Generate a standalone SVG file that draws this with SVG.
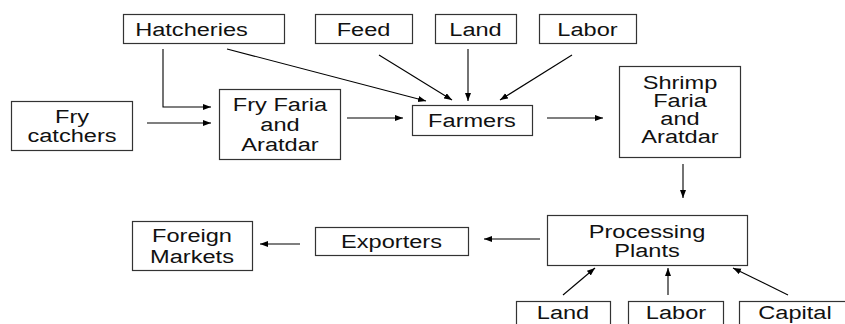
<svg xmlns="http://www.w3.org/2000/svg" width="845" height="324" viewBox="0 0 845 324">
<style>
.box{fill:#fff;stroke:#333;stroke-width:1.2}
.t{font-family:"Liberation Sans",Arial,sans-serif;font-size:18px;fill:#111;text-anchor:middle}
.c{fill:none;stroke:#000;stroke-width:1.1}
</style>
<defs>
<marker id="ah" markerUnits="userSpaceOnUse" markerWidth="9" markerHeight="7" refX="8" refY="3" orient="auto">
<path d="M0,0 L8,3 L0,6 z" fill="#000"/>
</marker>
</defs>
<rect width="845" height="324" fill="#fff"/>
<g id="connectors">
<polyline class="c" points="163,49 163,107 211,107" marker-end="url(#ah)"/>
<line class="c" x1="147" y1="123" x2="211" y2="123" marker-end="url(#ah)"/>
<line class="c" x1="227" y1="49" x2="426" y2="101" marker-end="url(#ah)"/>
<line class="c" x1="379" y1="55" x2="452" y2="100" marker-end="url(#ah)"/>
<line class="c" x1="468" y1="49" x2="468" y2="101" marker-end="url(#ah)"/>
<line class="c" x1="572" y1="55" x2="500" y2="100" marker-end="url(#ah)"/>
<line class="c" x1="347" y1="118" x2="403" y2="118" marker-end="url(#ah)"/>
<line class="c" x1="547" y1="118" x2="603" y2="118" marker-end="url(#ah)"/>
<line class="c" x1="683" y1="164" x2="683" y2="198" marker-end="url(#ah)"/>
<line class="c" x1="540" y1="239" x2="484" y2="239" marker-end="url(#ah)"/>
<line class="c" x1="300" y1="244" x2="260" y2="244" marker-end="url(#ah)"/>
<line class="c" x1="563" y1="295" x2="595" y2="268" marker-end="url(#ah)"/>
<line class="c" x1="668" y1="295" x2="668" y2="268" marker-end="url(#ah)"/>
<line class="c" x1="788" y1="295" x2="733" y2="268" marker-end="url(#ah)"/>
</g>
<g id="hatcheries"><rect class="box" x="123.5" y="14.5" width="161" height="29"/><text class="t" transform="translate(191.5,0) scale(1.31,1)" x="0" y="36">Hatcheries</text></g>
<g id="feed"><rect class="box" x="315.5" y="14.5" width="97" height="29"/><text class="t" transform="translate(363.5,0) scale(1.31,1)" x="0" y="36">Feed</text></g>
<g id="land-top"><rect class="box" x="435.5" y="14.5" width="81" height="29"/><text class="t" transform="translate(475.5,0) scale(1.31,1)" x="0" y="36">Land</text></g>
<g id="labor-top"><rect class="box" x="539.5" y="14.5" width="97" height="29"/><text class="t" transform="translate(587.5,0) scale(1.31,1)" x="0" y="36">Labor</text></g>
<g id="fry-catchers"><rect class="box" x="11.5" y="101.5" width="121" height="49"/><text class="t" transform="translate(72,0) scale(1.31,1)" x="0" y="123">Fry</text><text class="t" transform="translate(72,0) scale(1.31,1)" x="0" y="142">catchers</text></g>
<g id="fry-faria"><rect class="box" x="219.5" y="89.5" width="121" height="70"/><text class="t" transform="translate(280,0) scale(1.31,1)" x="0" y="111">Fry Faria</text><text class="t" transform="translate(280,0) scale(1.31,1)" x="0" y="131">and</text><text class="t" transform="translate(280,0) scale(1.31,1)" x="0" y="151">Aratdar</text></g>
<g id="farmers"><rect class="box" x="412.5" y="105.5" width="120" height="30"/><text class="t" transform="translate(472,0) scale(1.31,1)" x="0" y="127.5">Farmers</text></g>
<g id="shrimp-faria"><rect class="box" x="619.5" y="66.5" width="121" height="91"/><text class="t" transform="translate(680,0) scale(1.31,1)" x="0" y="89">Shrimp</text><text class="t" transform="translate(680,0) scale(1.31,1)" x="0" y="107">Faria</text><text class="t" transform="translate(680,0) scale(1.31,1)" x="0" y="125">and</text><text class="t" transform="translate(680,0) scale(1.31,1)" x="0" y="143">Aratdar</text></g>
<g id="processing"><rect class="box" x="547.5" y="215.5" width="200" height="50"/><text class="t" transform="translate(647,0) scale(1.31,1)" x="0" y="238">Processing</text><text class="t" transform="translate(647,0) scale(1.31,1)" x="0" y="257">Plants</text></g>
<g id="exporters"><rect class="box" x="315.5" y="227.5" width="153" height="28"/><text class="t" transform="translate(391.5,0) scale(1.31,1)" x="0" y="248.5">Exporters</text></g>
<g id="foreign-markets"><rect class="box" x="132.5" y="221.5" width="120" height="49"/><text class="t" transform="translate(192,0) scale(1.31,1)" x="0" y="242.5">Foreign</text><text class="t" transform="translate(192,0) scale(1.31,1)" x="0" y="263.5">Markets</text></g>
<g id="land-bottom"><rect class="box" x="516.5" y="301.5" width="94" height="40"/><text class="t" transform="translate(563,0) scale(1.31,1)" x="0" y="319.5">Land</text></g>
<g id="labor-bottom"><rect class="box" x="628.5" y="301.5" width="95" height="40"/><text class="t" transform="translate(676,0) scale(1.31,1)" x="0" y="319.5">Labor</text></g>
<g id="capital"><rect class="box" x="739.5" y="301.5" width="115" height="40"/><text class="t" transform="translate(795,0) scale(1.31,1)" x="0" y="319.5">Capital</text></g>
</svg>
